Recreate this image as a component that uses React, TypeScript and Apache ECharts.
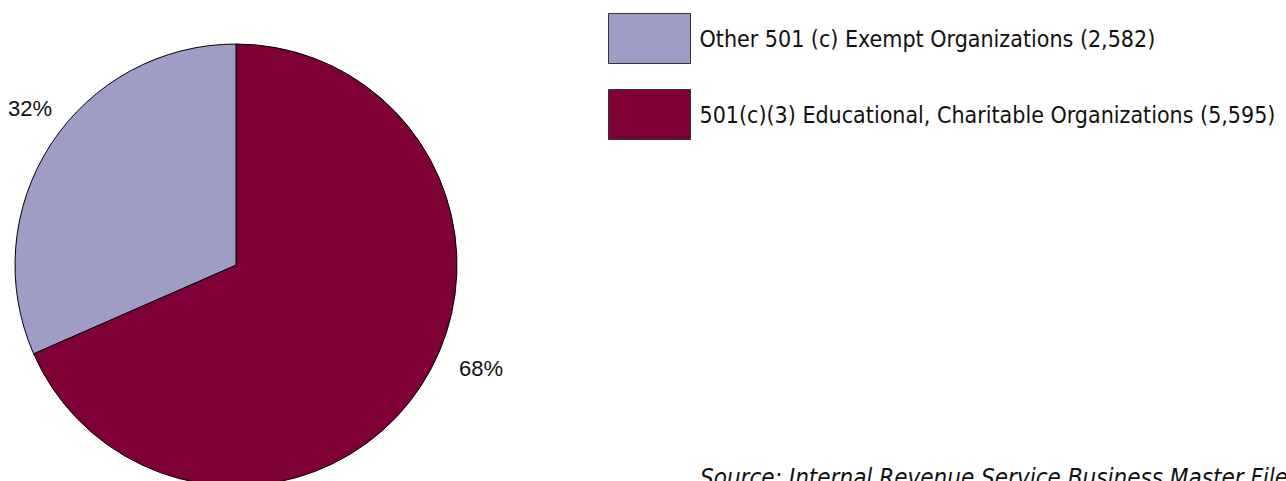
import React, { useEffect, useRef } from "react";
import * as echarts from "echarts";

const categories = [
  "501(c)(3) Educational, Charitable Organizations",
  "Other 501 (c) Exempt Organizations",
];
const counts = [5595, 2582];
const colors = ["#7f0037", "#9f9cc6"];
const legendOrder = [1, 0];
const sourceNote = "Source: Internal Revenue Service Business Master File";

const fmt = (n: number) => n.toLocaleString("en-US");
const FONT = "'Liberation Sans Narrow', 'DejaVu Sans Condensed', sans-serif";

export default function App() {
  const ref = useRef<HTMLDivElement>(null);
  useEffect(() => {
    if (!ref.current) return;
    const chart = echarts.init(ref.current, null, { renderer: "svg" });
    const total = counts.reduce((a, b) => a + b, 0);
    const names = categories.map((c, i) => `${c} (${fmt(counts[i])})`);
    const labelPos = [
      { x: 481, y: 368 },
      { x: 30, y: 108 },
    ];
    chart.setOption({
      animation: false,
      legend: {
        orient: "vertical",
        left: 608,
        top: 13,
        padding: 0,
        itemWidth: 82,
        itemHeight: 50,
        itemGap: 25,
        icon: "rect",
        selectedMode: false,
        data: legendOrder.map((i) => names[i]),
        itemStyle: { borderColor: "#333", borderWidth: 1 },
        textStyle: {
          fontFamily: FONT,
          fontSize: 23,
          color: "#111",
          padding: [0, 0, 0, 4],
        },
      },
      graphic: [
        ...counts.map((v, i) => ({
          type: "text",
          x: labelPos[i].x,
          y: labelPos[i].y,
          style: {
            text: `${Math.round((v / total) * 100)}%`,
            fontFamily: "'Liberation Sans', Arial, sans-serif",
            fontSize: 22,
            fill: "#111",
            align: "center",
            verticalAlign: "middle",
          },
        })),
        {
          type: "text",
          left: 700,
          top: 466,
          style: {
            text: sourceNote,
            fontFamily: FONT,
            fontStyle: "italic",
            fontSize: 24,
            fill: "#111",
          },
        },
      ],
      series: [
        {
          type: "pie",
          center: [236, 265],
          radius: [0, 221],
          startAngle: 90,
          clockwise: true,
          data: counts.map((v, i) => ({
            name: names[i],
            value: v,
            itemStyle: { color: colors[i] },
          })),
          itemStyle: { borderColor: "#000", borderWidth: 1 },
          label: { show: false },
          labelLine: { show: false },
          emphasis: { disabled: true },
        },
      ],
    });
    return () => chart.dispose();
  }, []);
  return <div ref={ref} style={{ width: 1286, height: 481, position: "absolute", left: 0, top: 0 }} />;
}
